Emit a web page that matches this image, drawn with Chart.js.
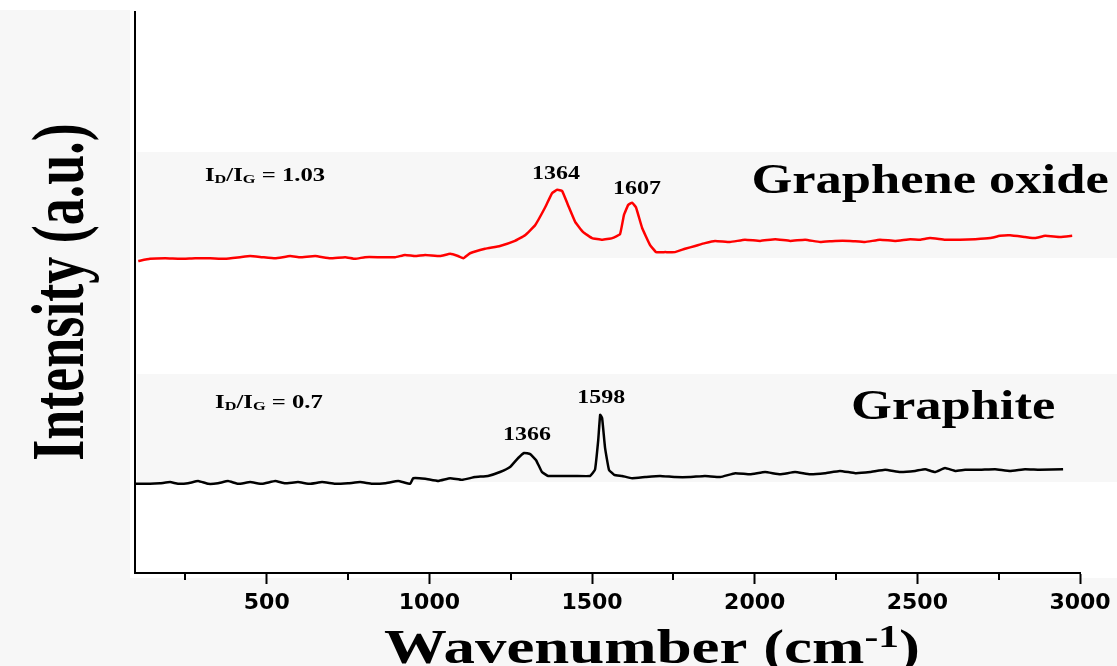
<!DOCTYPE html>
<html>
<head>
<meta charset="utf-8">
<script src="https://cdn.jsdelivr.net/npm/chart.js@4.4.1/dist/chart.umd.min.js"></script>
<style>
  html, body { margin: 0; padding: 0; background: #fff; }
</style>
</head>
<body>
<canvas id="raman" width="1117" height="666"></canvas>
<script>
// Raman spectra
const goWavenumber = [105,141,188,234,280,326,372,418,449,486,526,572,603,649,695,741,772,802,848,895,
  925,956,987,1033,1064,1088,1104,1125,1171,1217,1263,1294,1325,1356,1377,1393,1408,1426,1448,1472,
  1500,1531,1562,1586,1598,1611,1623,1635,1654,1678,1697,1725,1755,1786,1817,1847,1878,1924,1970,2017,
  2063,2109,2155,2201,2247,2293,2339,2385,2432,2478,2508,2539,2585,2631,2678,2724,2754,2785,2831,2862,
  2893,2939,2976];
const goIntensity = [55.6,56.0,56.1,56.0,56.1,56.1,56.0,56.3,56.5,56.3,56.1,56.5,56.3,56.5,56.1,56.3,56.0,56.3,56.3,56.3,
  56.7,56.5,56.7,56.5,56.9,56.5,56.1,57.0,57.8,58.3,59.2,60.2,62.0,65.2,67.7,68.3,68.1,65.6,62.6,60.8,
  59.7,59.4,59.7,60.4,63.8,65.6,66.0,65.2,61.5,58.5,57.2,57.2,57.2,57.8,58.3,58.8,59.2,59.0,59.4,59.2,
  59.5,59.2,59.4,59.0,59.2,59.2,59.0,59.4,59.2,59.5,59.4,59.7,59.4,59.4,59.5,59.7,60.1,60.2,59.9,59.7,
  60.1,59.9,60.1];

const graphiteWavenumber = [95,141,172,203,227,258,289,320,350,381,412,449,486,526,556,596,633,670,710,750,
  787,824,864,904,941,950,987,1027,1064,1100,1140,1180,1217,1248,1273,1291,1310,1328,1346,1365,
  1402,1448,1494,1509,1519,1525,1531,1540,1552,1568,1592,1623,1663,1709,1755,1801,1847,1894,1940,1986,
  2032,2078,2124,2170,2216,2262,2309,2355,2401,2447,2493,2524,2554,2585,2616,2647,2693,2739,2785,2831,
  2876,2948];
const graphiteIntensity = [15.9,15.9,16.0,16.2,15.9,16.0,16.4,15.9,16.0,16.4,15.9,16.2,15.9,16.4,16.0,16.2,15.9,16.2,15.9,16.0,
  16.2,15.9,16.0,16.4,15.9,16.9,16.8,16.4,16.9,16.6,17.1,17.3,18.0,18.9,20.5,21.4,21.2,20.1,18.0,17.3,
  17.3,17.3,17.3,18.4,23.7,28.2,27.6,22.3,18.4,17.5,17.3,16.9,17.1,17.3,17.1,17.1,17.3,17.1,17.8,17.6,
  18.0,17.6,18.0,17.6,17.8,18.2,17.8,18.0,18.4,18.0,18.2,18.5,18.0,18.7,18.2,18.4,18.4,18.5,18.2,18.5,
  18.4,18.5];

const xTicks = [250,500,750,1000,1250,1500,1750,2000,2250,2500,2750,3000];

// text labels anchored in data coordinates
const peakLabels = [
  { text: '1364', x: 1389, y: 70.2 },
  { text: '1607', x: 1638, y: 67.6 },
  { text: '1366', x: 1300, y: 23.7 },
  { text: '1598', x: 1528, y: 30.3 }
];
const sampleLabels = [
  { text: 'Graphene oxide', x: 2539, y: 67.7 },
  { text: 'Graphite', x: 2610, y: 27.5 }
];
const ratioLabels = [
  { value: '1.03', x: 310, y: 69.9 },
  { value: '0.7', x: 341, y: 29.4 }
];

const SERIF = '"Liberation Serif", "Times New Roman", serif';

function drawRich(ctx, parts, x, y, size, stretch, align) {
  let w = 0;
  parts.forEach(p => {
    p.size = (p.sub || p.sup) ? size * 0.66 : size;
    ctx.font = `bold ${p.size}px ${SERIF}`;
    p.w = ctx.measureText(p.t).width;
    w += p.w;
  });
  ctx.save();
  ctx.translate(x, y);
  ctx.scale(stretch, 1);
  ctx.fillStyle = '#000';
  ctx.textAlign = 'left';
  ctx.textBaseline = 'alphabetic';
  let cx = align === 'center' ? -w / 2 : 0;
  parts.forEach(p => {
    ctx.font = `bold ${p.size}px ${SERIF}`;
    const dy = p.sub ? size * 0.12 : p.sup ? -size * 0.34 : 0;
    ctx.fillText(p.t, cx, dy);
    cx += p.w;
  });
  ctx.restore();
}

// faint grey scan bands of the original figure
const paperTone = {
  id: 'paperTone',
  beforeDraw(chart) {
    const ctx = chart.ctx;
    ctx.save();
    ctx.fillStyle = '#f7f7f7';
    ctx.fillRect(0, 10, 130, 656);
    ctx.fillRect(0, 578, 1117, 88);
    ctx.fillRect(137, 152, 980, 106);
    ctx.fillRect(137, 374, 980, 108);
    ctx.restore();
  }
};

const textPlugin = {
  id: 'ramanText',
  afterDraw(chart) {
    const ctx = chart.ctx;
    const xs = chart.scales.x, ys = chart.scales.y;

    // minor ticks (shorter)
    ctx.save();
    ctx.strokeStyle = '#000';
    ctx.lineWidth = 2;
    xTicks.filter(v => v % 500 !== 0).forEach(v => {
      const px = Math.round(xs.getPixelForValue(v));
      ctx.beginPath();
      ctx.moveTo(px, chart.chartArea.bottom);
      ctx.lineTo(px, chart.chartArea.bottom + 7);
      ctx.stroke();
    });
    ctx.restore();

    peakLabels.forEach(l => drawRich(ctx, [{ t: l.text }], xs.getPixelForValue(l.x), ys.getPixelForValue(l.y), 18, 1.33, 'center'));
    sampleLabels.forEach(l => drawRich(ctx, [{ t: l.text }], xs.getPixelForValue(l.x), ys.getPixelForValue(l.y), 42, 1.25, 'center'));
    ratioLabels.forEach(l => drawRich(ctx, [
      { t: 'I' }, { t: 'D', sub: true }, { t: '/I' }, { t: 'G', sub: true }, { t: ' = ' + l.value }
    ], xs.getPixelForValue(l.x), ys.getPixelForValue(l.y), 19, 1.3, 'left'));

    // axis titles
    drawRich(ctx, [{ t: 'Wavenumber (cm' }, { t: '-1', sup: true }, { t: ')' }], 652, 663, 48, 1.31, 'center');

    ctx.save();
    ctx.translate(83, 292);
    ctx.rotate(-Math.PI / 2);
    ctx.scale(1, 1.39);
    drawRich(ctx, [{ t: 'Intensity (a.u.)' }], 0, 0, 54, 1, 'center');
    ctx.restore();
  }
};

new Chart(document.getElementById('raman').getContext('2d'), {
  type: 'scatter',
  data: {
    datasets: [
      {
        label: 'Graphene oxide',
        data: goWavenumber.map((x, i) => ({ x, y: goIntensity[i] })),
        showLine: true,
        borderColor: '#ff0000',
        borderWidth: 2.5,
        pointRadius: 0,
        tension: 0.1
      },
      {
        label: 'Graphite',
        data: graphiteWavenumber.map((x, i) => ({ x, y: graphiteIntensity[i] })),
        showLine: true,
        borderColor: '#000000',
        borderWidth: 2.5,
        pointRadius: 0,
        tension: 0.1
      }
    ]
  },
  options: {
    responsive: false,
    animation: false,
    devicePixelRatio: 1,
    layout: { padding: { top: 12, right: 37, left: 0, bottom: 0 } },
    plugins: { legend: { display: false }, tooltip: { enabled: false } },
    scales: {
      x: {
        type: 'linear',
        min: 95,
        max: 3000,
        afterBuildTicks: s => { s.ticks = xTicks.map(v => ({ value: v })); },
        afterFit: s => { s.height = 93; },
        ticks: {
          autoSkip: false,
          maxRotation: 0,
          padding: 6,
          color: '#000',
          font: { family: '"DejaVu Sans", sans-serif', weight: 'bold', size: 22 },
          callback: v => (v % 500 === 0 ? String(v) : '')
        },
        grid: {
          drawOnChartArea: false,
          tickLength: 11,
          tickWidth: 2,
          tickColor: c => (c.tick && c.tick.value % 500 === 0 ? '#000' : 'rgba(0,0,0,0)')
        },
        border: { color: '#000', width: 2 }
      },
      y: {
        min: 0,
        max: 100,
        afterFit: s => { s.width = 135; },
        ticks: { display: false },
        grid: { display: false },
        border: { color: '#000', width: 2 }
      }
    }
  },
  plugins: [paperTone, textPlugin]
});
</script>
</body>
</html>
